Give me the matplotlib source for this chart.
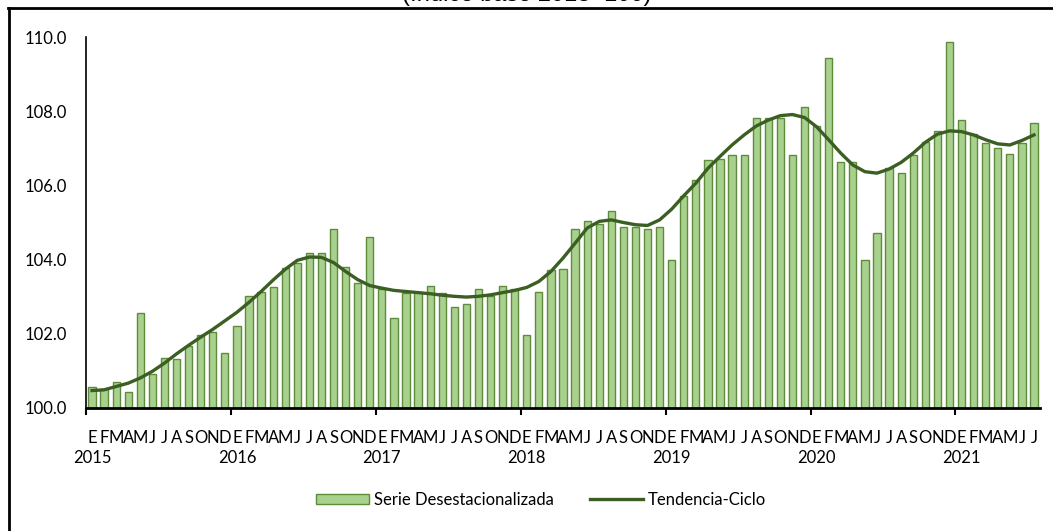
import matplotlib
matplotlib.use("Agg")
import matplotlib.pyplot as plt
from matplotlib.lines import Line2D
import numpy as np

years = ["2015", "2016", "2017", "2018", "2019", "2020", "2021"]
month_letters = ["E", "F", "M", "A", "M", "J", "J", "A", "S", "O", "N", "D"]

serie_desest = [
    100.56, 100.51, 100.69, 100.44, 102.56, 100.92, 101.35, 101.31, 101.66, 101.97, 102.06, 101.48,
    102.20, 103.01, 103.13, 103.25, 103.77, 103.92, 104.19, 104.17, 104.82, 103.81, 103.38, 104.62,
    103.20, 102.42, 103.11, 103.13, 103.30, 103.11, 102.73, 102.81, 103.22, 103.03, 103.29, 103.20,
    101.96, 103.14, 103.73, 103.74, 104.82, 105.05, 104.96, 105.30, 104.89, 104.89, 104.82, 104.89,
    103.99, 105.72, 106.14, 106.69, 106.71, 106.83, 106.82, 107.83, 107.81, 107.81, 106.82, 108.11,
    107.59, 109.43, 106.63, 106.63, 103.99, 104.73, 106.48, 106.33, 106.82, 107.17, 107.46, 109.87,
    107.75, 107.38, 107.14, 107.02, 106.84, 107.14, 107.67,
]

tendencia_ciclo = [
    100.47, 100.49, 100.58, 100.67, 100.81, 100.99, 101.21, 101.46, 101.69, 101.91, 102.12, 102.35,
    102.58, 102.85, 103.14, 103.45, 103.74, 103.98, 104.07, 104.06, 103.92, 103.68, 103.46, 103.30,
    103.23, 103.17, 103.14, 103.11, 103.08, 103.04, 103.01, 102.99, 103.01, 103.05, 103.11, 103.17,
    103.25, 103.41, 103.68, 104.04, 104.44, 104.85, 105.03, 105.07, 105.00, 104.94, 104.92, 105.07,
    105.36, 105.72, 106.06, 106.46, 106.78, 107.09, 107.36, 107.60, 107.76, 107.88, 107.91, 107.83,
    107.58, 107.23, 106.87, 106.55, 106.37, 106.33, 106.44, 106.62, 106.87, 107.16, 107.38, 107.47,
    107.45, 107.36, 107.23, 107.12, 107.09, 107.21, 107.36,
]

W, H = 1053, 531
fig = plt.figure(figsize=(W / 100, H / 100), dpi=100)
font = ["Lato", "DejaVu Sans"]
plt.rcParams["font.family"] = font
FS = 12

ax = fig.add_axes([86 / W, 1 - 408 / H, (1040 - 86) / W, (408 - 37) / H])

n = len(serie_desest)
x = np.arange(n)
bars = ax.bar(x, np.array(serie_desest) - 100, bottom=100, width=0.6,
              color="#A9D18E", edgecolor="#5E8C3C", linewidth=1.0,
              label="Serie Desestacionalizada", zorder=2)
line, = ax.plot(x, tendencia_ciclo, color="#3B5E23", linewidth=2.4,
                label="Tendencia-Ciclo", zorder=3)

ax.set_xlim(-0.5, n - 0.5)
ax.set_ylim(100, 110)
yt = np.arange(100, 110.1, 2)
ax.set_yticks(yt)
ax.set_yticklabels([f"{v:.1f}" for v in yt])
ax.tick_params(axis="y", length=0, pad=13.5, labelsize=FS, colors="black")

for s in ["top", "right"]:
    ax.spines[s].set_visible(False)
ax.spines["left"].set_linewidth(1.2)
ax.spines["bottom"].set_linewidth(2.0)

# major ticks at year boundaries
ax.set_xticks(np.arange(-0.5, n, 12))
ax.tick_params(axis="x", which="major", length=5, width=1.5, labelbottom=False)
# month letters as minor tick labels
ax.set_xticks(x, minor=True)
ax.set_xticklabels([month_letters[i % 12] for i in x], minor=True)
ax.tick_params(axis="x", which="minor", length=0, pad=16, labelsize=FS)

for i, yr in enumerate(years):
    ax.annotate(yr, xy=(i * 12, 0), xycoords=("data", "axes fraction"),
                xytext=(0, -50), textcoords="offset pixels",
                ha="center", va="center", fontsize=FS)

fig.legend(handles=[bars, line], labels=["Serie Desestacionalizada", "Tendencia-Ciclo"],
           loc="center", bbox_to_anchor=(541 / W, 31 / H), ncol=2, frameon=False,
           fontsize=FS, handlelength=3.2, handleheight=0.6, columnspacing=2.2,
           handletextpad=0.25)

fig.text(527 / W, 1 - 6 / H, "(Índice base 2013=100)", ha="center", va="bottom",
         fontsize=17, family=["Liberation Sans", "DejaVu Sans"])

# outer frame (left and top edges visible)
fig.add_artist(Line2D([8.5 / W, 8.5 / W], [1 - 8 / H, -0.05], color="black", linewidth=2,
                      transform=fig.transFigure))
fig.add_artist(Line2D([8 / W, 1.05], [1 - 8 / H, 1 - 8 / H], color="black", linewidth=2,
                      transform=fig.transFigure))

fig.savefig("out.png", dpi=100)
